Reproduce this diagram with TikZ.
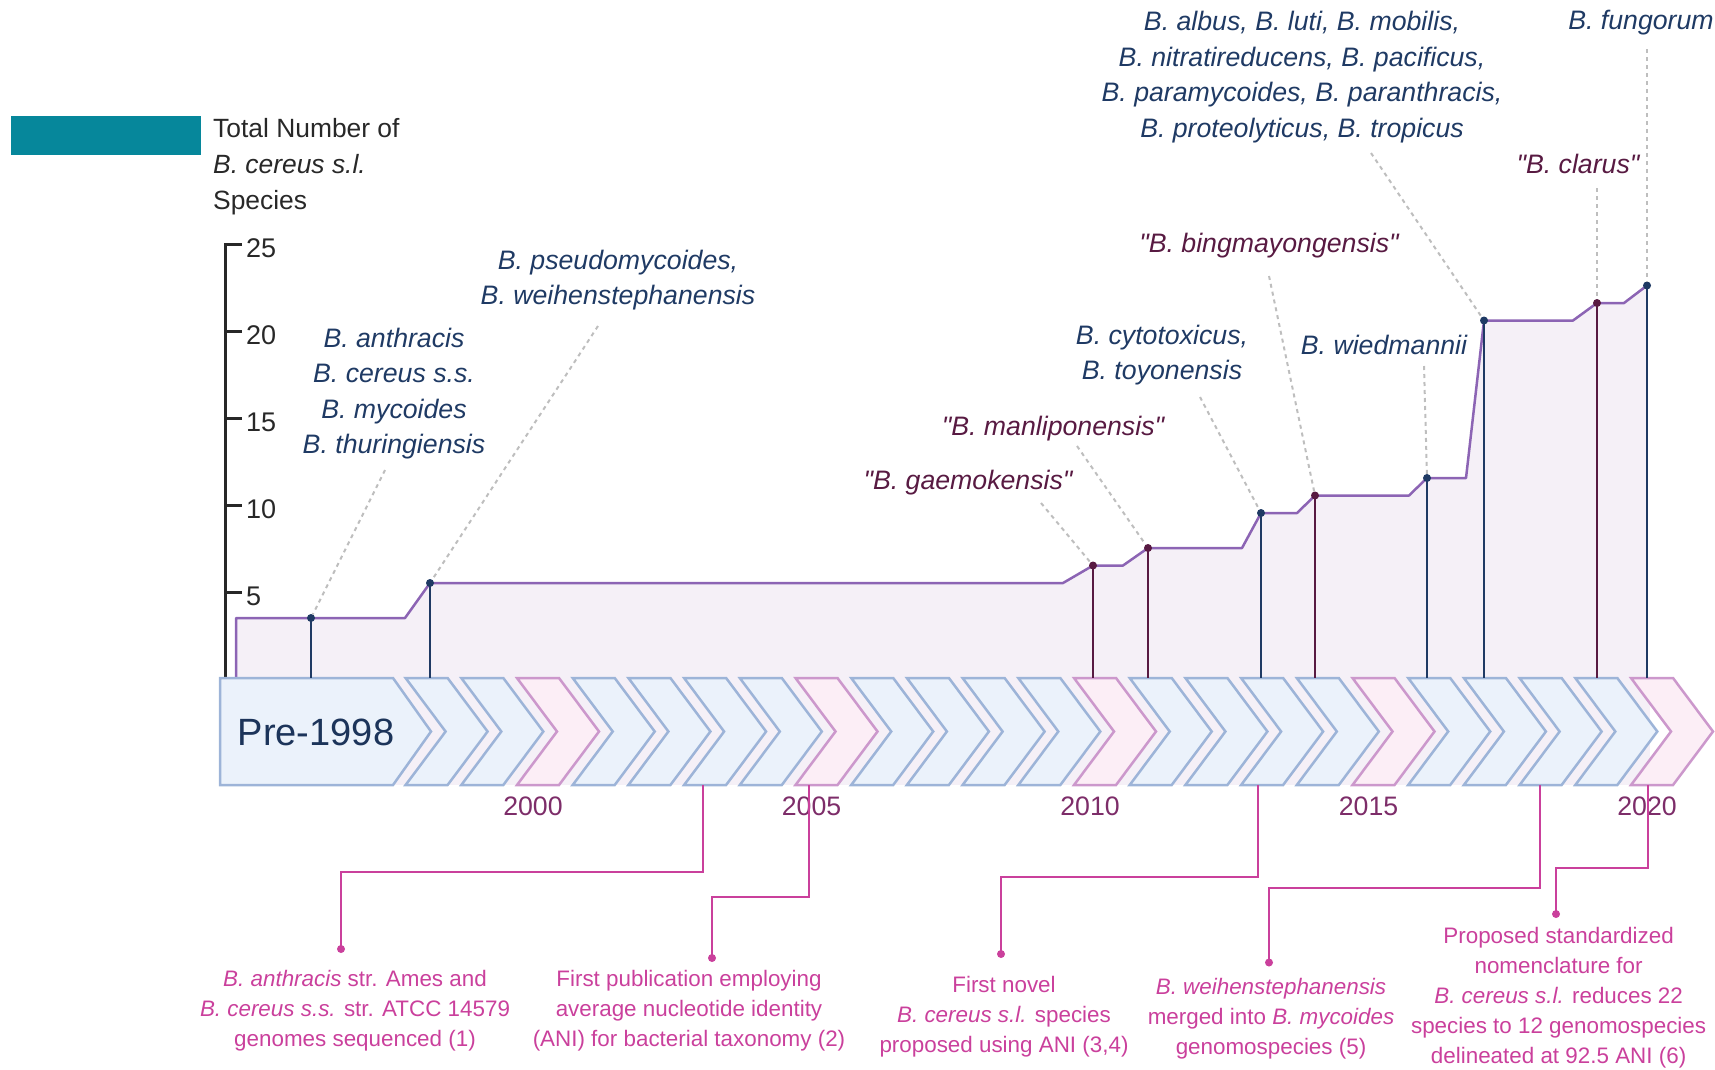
\documentclass[tikz,border=0pt]{standalone}
\usepackage{fontspec}
\setmainfont{Liberation Sans}
\newfontfamily\labelfont{Liberation Sans}
\usepackage{xcolor}
\usepackage{tikz}
\usetikzlibrary{calc}

\definecolor{hdrteal}{RGB}{6,135,155}
\definecolor{navyc}{RGB}{31,58,100}
\definecolor{maroonc}{RGB}{88,26,66}
\definecolor{magc}{RGB}{202,64,156}
\definecolor{yearc}{RGB}{125,45,105}
\definecolor{areafill}{RGB}{245,240,247}
\definecolor{arealine}{RGB}{140,100,180}
\definecolor{chevblue}{RGB}{157,180,216}
\definecolor{chevbluefill}{RGB}{235,242,251}
\definecolor{chevpink}{RGB}{204,152,204}
\definecolor{chevpinkfill}{RGB}{252,238,246}
\definecolor{leadgray}{RGB}{190,190,190}
\definecolor{axisgray}{RGB}{40,40,40}

\begin{document}
\begin{tikzpicture}[
        x=1pt, y=-1pt,
        sp/.style   ={align=center, inner sep=0pt, font=\labelfont\fontsize{26.7}{35.5}\selectfont\itshape},
        valid/.style={sp, text=navyc},
        quot/.style ={sp, text=maroonc},
        dot/.style  ={circle, fill, inner sep=0pt, minimum size=8pt},
        stem/.style ={line width=2.5pt},
        leader/.style={draw=leadgray, line width=2pt, dash pattern=on 4pt off 4pt},
        chevbl/.style={draw=chevblue, fill=chevbluefill, line width=2.5pt, line join=miter},
        chevpk/.style={draw=chevpink, fill=chevpinkfill, line width=2.5pt, line join=miter},
        yearlbl/.style={inner sep=0pt, text=yearc, font=\fontsize{26.7}{30}\selectfont},
        ticklbl/.style={inner sep=0pt, anchor=west, text=axisgray, font=\fontsize{27}{30}\selectfont},
        axis/.style ={draw=axisgray, line width=3pt},
        evline/.style={draw=magc, line width=2.5pt},
        evdot/.style={dot, fill=magc},
        evlbl/.style={align=center, inner sep=0pt, text=magc, font=\fontsize{22.4}{30}\selectfont}
    ]
        \useasboundingbox (0,0) rectangle (1715,1069);

        % header
        \node[fill=hdrteal, inner sep=0pt, minimum width=190pt, minimum height=39pt] (tealbar) at (106,135.5) {};
        \node[align=left, inner sep=0pt, anchor=west, text=axisgray, font=\fontsize{26.4}{36}\selectfont] (ytitle) at (213,167)
            {Total Number of\\\textit{B. cereus s.l.}\\Species};

        % axis
        \draw[axis] (242,244) -- (225,244) -- (225,678);
        \foreach \v in {5,10,...,20}
            \draw[axis] (225,{680-17.44*\v}) -- ++(17,0);
        \foreach \v in {5,10,...,25}
            \node[ticklbl] (t\v) at (246,{684-17.44*\v}) {\v};

        % species count
        \fill[areafill] (220,678) rectangle (1650,785);
        \fill[areafill] (236,680) -- (236,618) -- (405,618) -- (430,583) -- (1063,583) -- (1093,565.5)
            -- (1123,565.5) -- (1148,548) -- (1242,548) -- (1261,513) -- (1297,513) -- (1315,495.5)
            -- (1409,495.5) -- (1427,478) -- (1466,478) -- (1484,320.5) -- (1573,320.5) -- (1597,303)
            -- (1624,303) -- (1647,285.5) -- (1647,680) -- cycle;
        \draw[arealine, line width=2.5pt, line join=round] (236,678) -- (236,618) -- (405,618) -- (430,583) -- (1063,583) -- (1093,565.5)
            -- (1123,565.5) -- (1148,548) -- (1242,548) -- (1261,513) -- (1297,513) -- (1315,495.5)
            -- (1409,495.5) -- (1427,478) -- (1466,478) -- (1484,320.5) -- (1573,320.5) -- (1597,303)
            -- (1624,303) -- (1647,285.5);

        % timeline
        \draw[chevbl] (220,678) -- (393,678) -- (431,731.5) -- (393,785) -- (220,785) -- cycle;
        \node[inner sep=0pt, text=navyc!90!black, font=\fontsize{38}{40}\selectfont] (pre) at (316,732) {Pre-1998};
        \foreach \yr in {1998,...,2020}{
            \pgfmathsetmacro\xo{1631-(2020-\yr)*55.7}
            \pgfmathtruncatemacro\isfive{mod(\yr,5)==0}
            \ifnum\isfive=1 \def\chv{chevpk}\else\def\chv{chevbl}\fi
            \draw[\chv] (\xo,678) -- ++(42,0) -- ++(40,53.5) -- ++(-40,53.5) -- ++(-42,0) -- ++(40,-53.5) -- cycle;
        }
        \foreach \yr in {2000,2005,...,2020}
            \node[yearlbl] (y\yr) at ({1631-(2020-\yr)*55.7+16},806) {\yr};
        \coordinate (base) at (0,678);

        % species dots and stems
        \node[dot, navyc]   (d0) at (311,618) {};
        \node[dot, navyc]   (d1) at (430,583) {};
        \node[dot, maroonc] (d2) at (1093,565.5) {};
        \node[dot, maroonc] (d3) at (1148,548) {};
        \node[dot, navyc]   (d4) at (1261,513) {};
        \node[dot, maroonc] (d5) at (1315,495.5) {};
        \node[dot, navyc]   (d6) at (1427,478) {};
        \node[dot, navyc]   (d7) at (1484,320.5) {};
        \node[dot, maroonc] (d8) at (1597,303) {};
        \node[dot, navyc]   (d9) at (1647,285.5) {};
        \foreach \d/\c in {d0/navyc,d1/navyc,d2/maroonc,d3/maroonc,d4/navyc,d5/maroonc,d6/navyc,d7/navyc,d8/maroonc,d9/navyc}
            \draw[stem, \c] (\d.center) -- (\d.center |- base);

        % species names
        \node[valid] (s0) at (394,393.5) {B. anthracis\\B. cereus s.s.\\B. mycoides\\B. thuringiensis};
        \node[valid] (s1) at (618,280) {B. pseudomycoides,\\B. weihenstephanensis};
        \node[quot]  (s2) at (968,482.5) {"B. gaemokensis"};
        \node[quot]  (s3) at (1053,428.5) {"B. manliponensis"};
        \node[valid] (s4) at (1162,355) {B. cytotoxicus,\\B. toyonensis};
        \node[quot]  (s5) at (1269,245.5) {"B. bingmayongensis"};
        \node[valid] (s6) at (1384,344.5) {B. wiedmannii};
        \node[valid] (s7) at (1302,77) {B. albus, B. luti, B. mobilis,\\B. nitratireducens, B. pacificus,\\B. paramycoides, B. paranthracis,\\B. proteolyticus, B. tropicus};
        \node[quot]  (s8) at (1578,163.5) {"B. clarus"};
        \node[valid] (s9) at (1641,23) {B. fungorum};

        \coordinate (l0) at (385,470);
        \coordinate (l1) at (598,326);
        \coordinate (l2) at (1041,503);
        \coordinate (l3) at (1077,446);
        \coordinate (l4) at (1200,397);
        \coordinate (l5) at (1269,276);
        \coordinate (l6) at (1424,366);
        \coordinate (l7) at (1371,153);
        \coordinate (l8) at (1597,188);
        \coordinate (l9) at (1647,49);
        \foreach \i in {0,...,9}
            \draw[leader] (l\i) -- (d\i);

        % events
        \coordinate (e1) at (703,785);
        \coordinate (e2) at (809,785);
        \coordinate (e3) at (1258,785);
        \coordinate (e4) at (1540,785);
        \coordinate (e5) at (1648,785);
        \node[evdot] (v1) at (341,949) {};
        \node[evdot] (v2) at (712,958) {};
        \node[evdot] (v3) at (1001,954) {};
        \node[evdot] (v4) at (1269,962.5) {};
        \node[evdot] (v5) at (1556,914) {};
        \draw[evline] (e1) -- ++(0,87)  -| (v1.center);
        \draw[evline] (e2) -- ++(0,112) -| (v2.center);
        \draw[evline] (e3) -- ++(0,92)  -| (v3.center);
        \draw[evline] (e4) -- ++(0,103) -| (v4.center);
        \draw[evline] (e5) -- ++(0,83)  -| (v5.center);

        \node[evlbl] (ev1) at (355,1010.5) {\textit{B. anthracis} str. Ames and\\\textit{B. cereus s.s.} str. ATCC 14579\\genomes sequenced (1)};
        \node[evlbl] (ev2) at (689,1010.5) {First publication employing\\average nucleotide identity\\(ANI) for bacterial taxonomy (2)};
        \node[evlbl] (ev3) at (1004,1017) {First novel\\\textit{B. cereus s.l.} species\\proposed using ANI (3,4)};
        \node[evlbl] (ev4) at (1271,1019) {\textit{B. weihenstephanensis}\\merged into \textit{B. mycoides}\\genomospecies (5)};
        \node[evlbl] (ev5) at (1558.6,998) {Proposed standardized\\nomenclature for\\\textit{B. cereus s.l.} reduces 22\\species to 12 genomospecies\\delineated at 92.5 ANI (6)};
    \end{tikzpicture}
\end{document}
